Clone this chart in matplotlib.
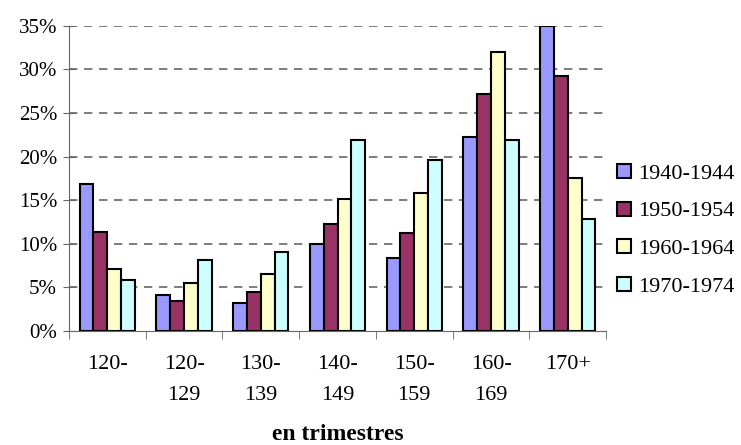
import numpy as np
import matplotlib.pyplot as plt
from matplotlib.ticker import FixedLocator, NullFormatter

plt.rcParams['font.family'] = ['Liberation Serif', 'DejaVu Serif']

categories = ['120-', '120-\n129', '130-\n139', '140-\n149', '150-\n159', '160-\n169', '170+']
series = ['1940-1944', '1950-1954', '1960-1964', '1970-1974']
v1940 = [16.9, 4.1, 3.2, 10.0, 8.4, 22.2, 35.0]
v1950 = [11.4, 3.4, 4.5, 12.3, 11.2, 27.2, 29.2]
v1960 = [7.1, 5.5, 6.6, 15.1, 15.8, 32.0, 17.5]
v1970 = [5.9, 8.2, 9.1, 21.9, 19.6, 21.9, 12.8]
colors = ['#9999FF', '#993366', '#FFFFCC', '#CCFFFF']

fig = plt.figure(figsize=(7.41, 4.45), dpi=100)
ax = fig.add_axes([0.093, 0.256, 0.725, 0.686])

x = np.arange(len(categories))
w = 0.18
for i, (vals, lab) in enumerate(zip([v1940, v1950, v1960, v1970], series)):
    ax.bar(x + (i - 1.5) * w, vals, w, color=colors[i], edgecolor='black',
           linewidth=1.5, label=lab, zorder=3)

ax.set_xlim(-0.5, 6.5)
ax.set_ylim(0, 35)
ax.set_yticks(range(0, 36, 5))
ax.set_yticklabels([f'{v}%' for v in range(0, 36, 5)], fontsize=15)
for v in range(5, 36, 5):
    ax.axhline(v, color='#666666', linestyle=(0, (5, 4)), linewidth=1.2, zorder=1)

ax.set_xticks(x)
ax.set_xticklabels(categories, fontsize=16, linespacing=1.85, va='top')
ax.tick_params(axis='x', length=0, pad=17)
ax.xaxis.set_minor_locator(FixedLocator(np.arange(-0.5, 7, 1)))
ax.xaxis.set_minor_formatter(NullFormatter())
ax.tick_params(axis='x', which='minor', length=6, color='#666666', direction='out')
ax.tick_params(axis='y', length=9, color='#666666', direction='inout', pad=4)

for s in ['top', 'right']:
    ax.spines[s].set_visible(False)
ax.spines['left'].set_color('#666666')
ax.spines['bottom'].set_color('#666666')

ax.set_xlabel('en trimestres', fontsize=17, fontweight='bold', labelpad=14)

ax.legend(loc='center left', bbox_to_anchor=(1.0, 0.33), frameon=False,
          fontsize=16, handlelength=0.6, handleheight=0.6, handletextpad=0.35,
          labelspacing=0.8, borderaxespad=0.1)

fig.savefig('out.png', dpi=100)
